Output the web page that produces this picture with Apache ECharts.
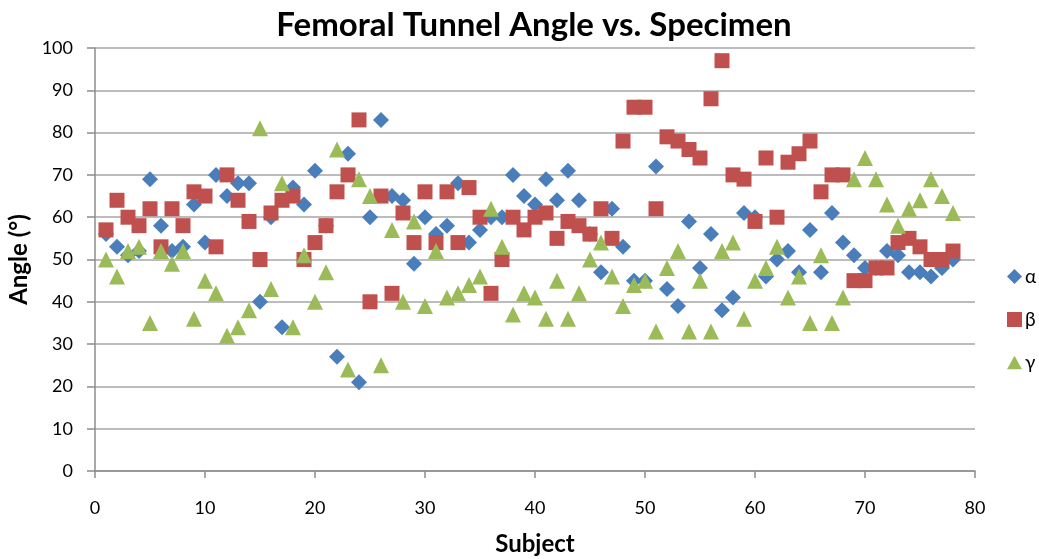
<!DOCTYPE html>
<html><head><meta charset="utf-8">
<script src="https://cdn.jsdelivr.net/npm/echarts@6/dist/echarts.min.js"></script>
<style>html,body{margin:0;padding:0;background:#fff}#c{width:1039px;height:559px}</style>
</head><body><div id="c"></div>
<script>
const subjects = Array.from({length:78},(_,i)=>i+1);
const alpha = [56,53,51,52,69,58,52,53,63,54,70,65,68,68,40,60,34,67,63,71,
  58,27,75,21,60,83,65,64,49,60,56,58,68,54,57,60,60,70,65,63,
  69,64,71,64,56,47,62,53,45,45,72,43,39,59,48,56,38,41,61,60,
  46,50,52,47,57,47,61,54,51,48,48,52,51,47,47,46,48,50];
const beta = [57,64,60,58,62,53,62,58,66,65,53,70,64,59,50,61,64,65,50,54,
  58,66,70,83,40,65,42,61,54,66,54,66,54,67,60,42,50,60,57,60,
  61,55,59,58,56,62,55,78,86,86,62,79,78,76,74,88,97,70,69,59,
  74,60,73,75,78,66,70,70,45,45,48,48,54,55,53,50,50,52];
const gamma = [50,46,52,53,35,52,49,52,36,45,42,32,34,38,81,43,68,34,51,40,
  47,76,24,69,65,25,57,40,59,39,52,41,42,44,46,62,53,37,42,41,
  36,45,36,42,50,54,46,39,44,45,33,48,52,33,45,33,52,54,36,45,
  48,53,41,46,35,51,35,41,69,74,69,63,58,62,64,69,65,61];
const seriesNames = ['α','β','γ'];
const xTicks = [0,10,20,30,40,50,60,70,80];
const yTicks = [0,10,20,30,40,50,60,70,80,90,100];

const pairs = arr => subjects.map((s,i)=>[s,arr[i]]);
const chart = echarts.init(document.getElementById('c'));
const diamond = 'path://M0,-1L1,0L0,1L-1,0Z';
const tri = 'path://M0,-1L1,0.8L-1,0.8Z';
const FONT = 'Lato';
chart.setOption({
  animation:false,
  title:{text:'Femoral Tunnel Angle vs. Specimen',left:529,top:4,textAlign:'center',
    textStyle:{fontFamily:FONT,fontWeight:'bold',fontSize:33,color:'#000'}},
  grid:{left:95,right:64,top:48,bottom:88,containLabel:false,outerBoundsMode:'none'},
  legend:{orient:'vertical',left:1002,top:262,itemGap:24,itemWidth:15,itemHeight:15,
    textStyle:{fontFamily:FONT,fontSize:19,color:'#000',padding:[0,0,0,-2]},
    data:seriesNames},
  xAxis:{type:'value',min:xTicks[0],max:xTicks[xTicks.length-1],interval:10,
    name:'Subject',nameLocation:'middle',nameGap:61,
    nameTextStyle:{fontFamily:FONT,fontWeight:'bold',fontSize:24,color:'#000'},
    axisLine:{show:true,lineStyle:{color:'#8c8c8c',width:1.5}},
    axisTick:{show:true,inside:false,length:7,lineStyle:{color:'#8c8c8c',width:1.5}},
    axisLabel:{fontFamily:FONT,fontSize:18,color:'#000',margin:28},
    splitLine:{show:false}},
  yAxis:{type:'value',min:yTicks[0],max:yTicks[yTicks.length-1],interval:10,
    name:'Angle (°)',nameLocation:'middle',nameGap:56,nameRotate:90,
    nameTextStyle:{fontFamily:FONT,fontWeight:'bold',fontSize:24,color:'#000'},
    axisLine:{show:true,lineStyle:{color:'#8c8c8c',width:1.5}},
    axisTick:{show:true,inside:false,length:8,lineStyle:{color:'#8c8c8c',width:1.5}},
    axisLabel:{fontFamily:FONT,fontSize:18,color:'#000',margin:22},
    splitLine:{show:true,lineStyle:{color:'#a6a6a6',width:1.5}}},
  series:[
    {name:seriesNames[0],type:'scatter',data:pairs(alpha),symbol:diamond,symbolSize:16,
      itemStyle:{color:'#4a7ebb',opacity:1},z:3},
    {name:seriesNames[1],type:'scatter',data:pairs(beta),symbol:'rect',symbolSize:15,
      itemStyle:{color:'#c0504d',opacity:1},z:4},
    {name:seriesNames[2],type:'scatter',data:pairs(gamma),symbol:tri,symbolSize:16,
      itemStyle:{color:'#9bbb59',opacity:1},z:5}
  ]
});
</script></body></html>
